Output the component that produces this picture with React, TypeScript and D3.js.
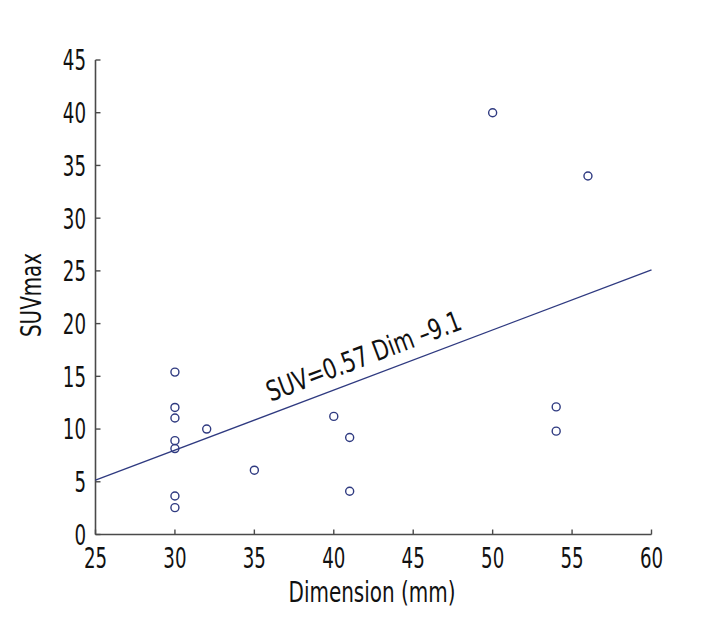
import React from "react";
import * as d3 from "d3";

const dimension = [30, 30, 30, 30, 30, 30, 30, 32, 35, 40, 41, 41, 50, 54, 54, 56];
const suvmax = [15.4, 12.05, 11.05, 8.9, 8.15, 3.65, 2.55, 10.0, 6.1, 11.2, 9.2, 4.1, 40.0, 12.1, 9.8, 34.0];
const xTicks = [25, 30, 35, 40, 45, 50, 55, 60];
const yTicks = [0, 5, 10, 15, 20, 25, 30, 35, 40, 45];
const slope = 0.57;
const intercept = -9.1;
const equationLabel = "SUV=0.57 Dim \u20139.1";
const xTitle = "Dimension (mm)";
const yTitle = "SUVmax";

const FONT = '"Liberation Sans Narrow", "DejaVu Sans Condensed", "Arial Narrow", sans-serif';
const AXIS = "#4a4a4a";
const NAVY = "#2f3a80";
const DIGIT_W = 11.6;

export default function App() {
  const x = d3.scaleLinear().domain([25, 60]).range([95.5, 651.5]);
  const y = d3.scaleLinear().domain([0, 45]).range([534.5, 60]);
  const lineGen = d3
    .line<number>()
    .x((d) => x(d))
    .y((d) => y(slope * d + intercept));
  const angle = (Math.atan2(y(slope * 60 + intercept) - y(slope * 25 + intercept), x(60) - x(25)) * 180) / Math.PI;
  const labelDim = 35.9;
  const lx = x(labelDim) + 2;
  const ly = y(slope * labelDim + intercept) - 13;

  return (
    <svg
      width={720}
      height={624}
      style={{ position: "absolute", left: 0, top: 0, background: "#fff" }}
      fontFamily={FONT}
    >
      {/* axes */}
      <line x1={x(25)} x2={x(25)} y1={y(0)} y2={y(45)} stroke={AXIS} strokeWidth={1.6} />
      <line x1={x(25)} x2={x(60)} y1={y(0)} y2={y(0)} stroke={AXIS} strokeWidth={1.6} />
      {yTicks.map((t) => (
        <g key={"y" + t}>
          <line x1={x(25)} x2={x(25) + 5} y1={y(t)} y2={y(t)} stroke={AXIS} strokeWidth={1.4} />
          <text
            x={86}
            y={y(t)}
            dy="0.36em"
            textAnchor="end"
            fontSize={29}
            fill="#111"
            textLength={String(t).length * DIGIT_W}
            lengthAdjust="spacingAndGlyphs"
          >
            {t}
          </text>
        </g>
      ))}
      {xTicks.map((t) => (
        <g key={"x" + t}>
          <line x1={x(t)} x2={x(t)} y1={y(0)} y2={y(0) - 5} stroke={AXIS} strokeWidth={1.4} />
          <text
            x={x(t)}
            y={568}
            textAnchor="middle"
            fontSize={29}
            fill="#111"
            textLength={String(t).length * DIGIT_W}
            lengthAdjust="spacingAndGlyphs"
          >
            {t}
          </text>
        </g>
      ))}
      <text
        x={372}
        y={602}
        textAnchor="middle"
        fontSize={29}
        fill="#111"
        textLength={167}
        lengthAdjust="spacingAndGlyphs"
      >
        {xTitle}
      </text>
      <text
        transform={`translate(41,295) rotate(-90)`}
        textAnchor="middle"
        fontSize={28}
        fill="#111"
        textLength={84}
        lengthAdjust="spacingAndGlyphs"
      >
        {yTitle}
      </text>
      {/* regression line */}
      <path d={lineGen([25, 60]) || ""} fill="none" stroke={NAVY} strokeWidth={1.3} />
      <text
        transform={`translate(${lx},${ly}) rotate(${angle})`}
        fontSize={28}
        fill="#111"
        textLength={206}
        lengthAdjust="spacingAndGlyphs"
      >
        {equationLabel}
      </text>
      {/* points */}
      {dimension.map((d, i) => (
        <circle key={i} cx={x(d)} cy={y(suvmax[i])} r={4} fill="none" stroke={NAVY} strokeWidth={1.4} />
      ))}
    </svg>
  );
}
